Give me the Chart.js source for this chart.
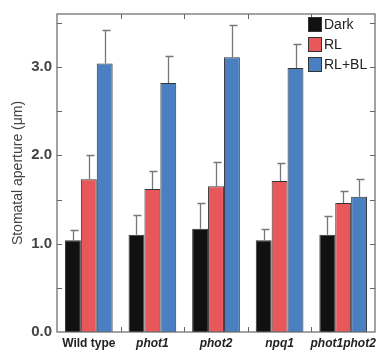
<!DOCTYPE html>
<html>
<head>
<meta charset="utf-8">
<script src="https://cdn.jsdelivr.net/npm/chart.js@4"></script>
<style>
  html, body { margin: 0; padding: 0; background: #fff; }
  #wrap { width: 383px; height: 354px; }
</style>
</head>
<body>
<div id="wrap"><canvas id="myChart" width="383" height="354"></canvas></div>
<script>
var labels = ['Wild type', 'phot1', 'phot2', 'npq1', 'phot1phot2'];
var dark = [1.04, 1.10, 1.17, 1.04, 1.10];
var darkErr = [0.12, 0.22, 0.29, 0.13, 0.21];
var rl = [1.73, 1.62, 1.65, 1.71, 1.46];
var rlErr = [0.27, 0.20, 0.28, 0.20, 0.14];
var rlbl = [3.04, 2.82, 3.11, 2.99, 1.53];
var rlblErr = [0.38, 0.31, 0.36, 0.27, 0.20];

var frameColor = '#666';
var textColor = '#444';

// error bars (upper only) + inner tick marks + frame + legend
var extras = {
  id: 'extras',
  afterDatasetsDraw: function (chart) {
    var c = chart.ctx, a = chart.chartArea;
    var ys = chart.scales.y;
    c.save();
    chart.data.datasets.forEach(function (ds, i) {
      var meta = chart.getDatasetMeta(i);
      meta.data.forEach(function (bar, j) {
        var top = Math.round(ys.getPixelForValue(ds.data[j] + ds.err[j])) + 0.5;
        var x = Math.round(bar.x) + 0.5;
        c.strokeStyle = '#777';
        c.lineWidth = 1.3;
        c.beginPath();
        c.moveTo(x, bar.y);
        c.lineTo(x, top);
        c.moveTo(x - 3, top);
        c.lineTo(x + 5, top);
        c.stroke();
      });
    });
    // frame
    c.strokeStyle = frameColor;
    c.lineWidth = 1.2;
    c.strokeRect(a.left, a.top, a.right - a.left, a.bottom - a.top);
    // y ticks inside on both sides
    c.lineWidth = 1;
    for (var v = 0.5; v < 3.6; v += 0.5) {
      var py = Math.round(ys.getPixelForValue(v)) + 0.5;
      c.beginPath();
      c.moveTo(a.left, py); c.lineTo(a.left + 5, py);
      c.moveTo(a.right, py); c.lineTo(a.right - 5, py);
      c.stroke();
    }
    // category boundary ticks top and bottom
    var w = (a.right - a.left) / labels.length;
    for (var k = 1; k < labels.length; k++) {
      var px = Math.round(a.left + k * w) + 0.5;
      c.beginPath();
      c.moveTo(px, a.top); c.lineTo(px, a.top + 5);
      c.moveTo(px, a.bottom); c.lineTo(px, a.bottom - 5);
      c.stroke();
    }
    // legend
    var lx = 308, ly = 17;
    chart.data.datasets.forEach(function (ds, i) {
      var y0 = ly + i * 20;
      c.fillStyle = ds.backgroundColor;
      c.fillRect(lx, y0, 14, 15);
      c.strokeStyle = '#333';
      c.strokeRect(lx + 0.5, y0 + 0.5, 13, 14);
      c.fillStyle = '#222';
      c.font = '14px "Liberation Sans", Arial, sans-serif';
      c.textBaseline = 'middle';
      c.textAlign = 'left';
      c.fillText(ds.label, lx + 16, y0 + 8);
    });
    c.restore();
  }
};

var ctx = document.getElementById('myChart').getContext('2d');
var chart = new Chart(ctx, {
  type: 'bar',
  data: {
    labels: labels,
    datasets: [
      { label: 'Dark', data: dark, err: darkErr, backgroundColor: '#111111', borderColor: '#333', borderWidth: 1 },
      { label: 'RL', data: rl, err: rlErr, backgroundColor: '#e8575a', borderColor: '#333', borderWidth: 1 },
      { label: 'RL+BL', data: rlbl, err: rlblErr, backgroundColor: '#4a7fc1', borderColor: '#333', borderWidth: 1 }
    ]
  },
  options: {
    responsive: false,
    animation: false,
    layout: { padding: { top: 5, right: 8, left: 0, bottom: 0 } },
    plugins: { legend: { display: false }, tooltip: { enabled: false } },
    datasets: { bar: { categoryPercentage: 0.75, barPercentage: 1.0 } },
    scales: {
      x: {
        grid: { display: false, drawTicks: false },
        border: { display: false },
        ticks: {
          color: '#222',
          padding: 4,
          maxRotation: 0,
          autoSkip: false,
          font: function (c) {
            return {
              family: '"Liberation Sans", Arial, sans-serif',
              size: 12,
              weight: 'bold',
              style: c.index === 0 ? 'normal' : 'italic'
            };
          }
        },
        afterFit: function (s) { s.height = 22; }
      },
      y: {
        min: 0,
        max: 3.6,
        grid: { display: false, drawTicks: false },
        border: { display: false },
        ticks: {
          stepSize: 1,
          padding: 5,
          color: textColor,
          font: { family: '"Liberation Sans", Arial, sans-serif', size: 15, weight: 'bold' },
          callback: function (v) { return Number.isInteger(v) ? v.toFixed(1) : ''; }
        },
        title: {
          display: true,
          text: 'Stomatal aperture (μm)',
          color: textColor,
          padding: { top: 10, bottom: 2 },
          font: { family: '"Liberation Sans", Arial, sans-serif', size: 14 }
        },
        afterFit: function (s) { s.width = 57; }
      }
    }
  },
  plugins: [extras]
});
</script>
</body>
</html>
